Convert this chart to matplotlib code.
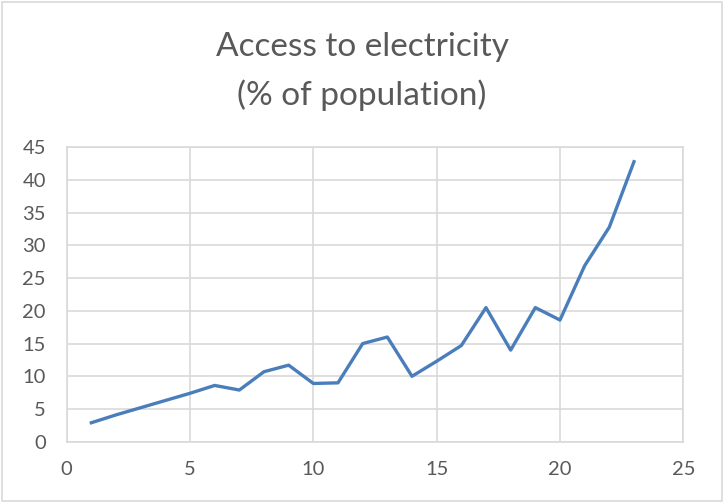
import matplotlib.pyplot as plt
from matplotlib.patches import Rectangle

# Yearly index vs. share of population with electricity access
years = list(range(1, 24))
access_pct = [2.9, 4.1, 5.2, 6.3, 7.4, 8.6, 7.9, 10.7, 11.7, 8.9, 9.0,
              15.0, 16.0, 10.0, 12.3, 14.7, 20.5, 14.0, 20.5, 18.6, 26.9, 32.8, 42.8]
x_ticks = [0, 5, 10, 15, 20, 25]
y_ticks = [0, 5, 10, 15, 20, 25, 30, 35, 40, 45]

GRID = "#D9D9D9"
TEXT = "#595959"
LINE = "#4A7EBB"

plt.rcParams["font.family"] = ["Lato", "DejaVu Sans"]

fig = plt.figure(figsize=(7.24, 5.04), dpi=100)
ax = fig.add_axes([0.0921, 0.1236, 0.8517, 0.5841])

ax.plot(years, access_pct, color=LINE, linewidth=2.4, solid_joinstyle="round", zorder=3)

ax.set_xlim(0, 25)
ax.set_ylim(0, 45)
ax.set_xticks(x_ticks)
ax.set_yticks(y_ticks)
ax.grid(True, color=GRID, linewidth=1.2)
ax.set_axisbelow(True)
for spine in ax.spines.values():
    spine.set_color(GRID)
    spine.set_linewidth(1.2)
ax.tick_params(axis="both", length=0, labelsize=14.5, labelcolor=TEXT)
ax.tick_params(axis="y", pad=15)
ax.tick_params(axis="x", pad=14)

fig.text(0.5, 0.907, "Access to electricity", ha="center", va="center",
         fontsize=24, color=TEXT)
fig.text(0.5, 0.812, "(% of population)", ha="center", va="center",
         fontsize=24, color=TEXT)

# light frame around the whole chart
fig.patches.append(Rectangle((0.003, 0.006), 0.994, 0.99, transform=fig.transFigure,
                             fill=False, edgecolor=GRID, linewidth=1.2))

fig.savefig("out.png", dpi=100)
plt.close(fig)
